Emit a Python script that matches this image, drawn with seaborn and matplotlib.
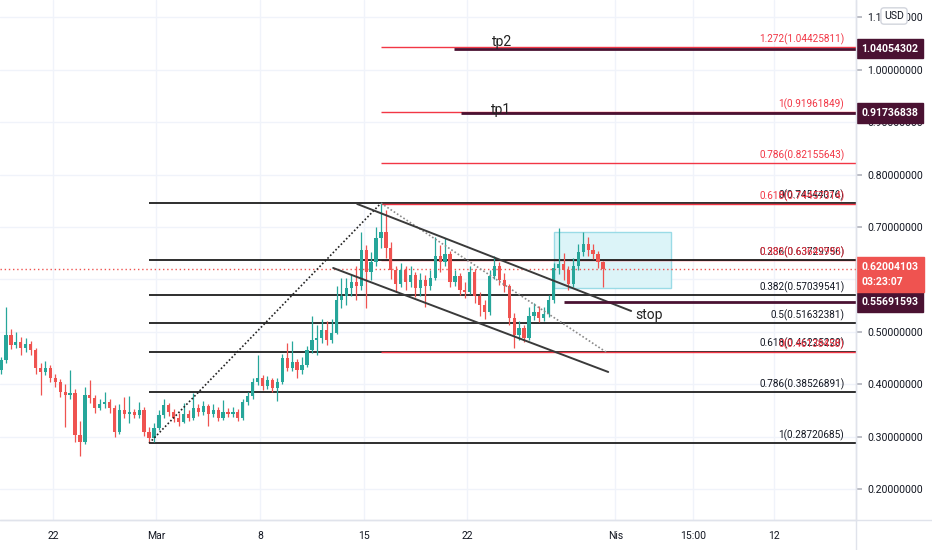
import matplotlib
matplotlib.use("Agg")
import matplotlib.pyplot as plt
import numpy as np
import pandas as pd
import seaborn as sns

# 8-hour candles, starting Feb 18 12:00
first_open = 0.427
closes = [
    0.446, 0.494, 0.475, 0.481, 0.469, 0.477, 0.465, 0.431, 0.423, 0.431,
    0.412, 0.404, 0.385, 0.379, 0.383, 0.303, 0.290, 0.379, 0.374, 0.355,
    0.362, 0.366, 0.355, 0.309, 0.351, 0.343, 0.347, 0.341, 0.351, 0.309,
    0.297, 0.316, 0.341, 0.360, 0.347, 0.336, 0.328, 0.343, 0.336, 0.355,
    0.347, 0.358, 0.343, 0.351, 0.336, 0.347, 0.343, 0.347, 0.336, 0.366,
    0.378, 0.404, 0.412, 0.397, 0.408, 0.393, 0.404, 0.450, 0.431, 0.442,
    0.427, 0.437, 0.465, 0.484, 0.488, 0.503, 0.484, 0.498, 0.561, 0.568,
    0.584, 0.595, 0.587, 0.656, 0.614, 0.633, 0.679, 0.690, 0.660, 0.618,
    0.591, 0.618, 0.595, 0.608, 0.584, 0.599, 0.587, 0.603, 0.645, 0.633,
    0.648, 0.595, 0.606, 0.580, 0.576, 0.614, 0.568, 0.551, 0.538, 0.606,
    0.626, 0.599, 0.587, 0.526, 0.494, 0.507, 0.488, 0.530, 0.538, 0.526,
    0.534, 0.561, 0.622, 0.629, 0.618, 0.591, 0.626, 0.652, 0.668, 0.656,
    0.648, 0.633, 0.620,
]
highs = [
    0.452, 0.547, 0.505, 0.500, 0.490, 0.488, 0.482, 0.470, 0.440, 0.445,
    0.436, 0.420, 0.410, 0.400, 0.427, 0.390, 0.330, 0.395, 0.408, 0.380,
    0.372, 0.385, 0.372, 0.360, 0.362, 0.376, 0.378, 0.352, 0.366, 0.356,
    0.318, 0.325, 0.350, 0.372, 0.365, 0.352, 0.345, 0.365, 0.350, 0.383,
    0.362, 0.368, 0.362, 0.362, 0.356, 0.370, 0.355, 0.356, 0.352, 0.372,
    0.385, 0.412, 0.455, 0.418, 0.415, 0.412, 0.412, 0.458, 0.478, 0.482,
    0.448, 0.452, 0.472, 0.530, 0.512, 0.525, 0.520, 0.525, 0.588, 0.602,
    0.603, 0.610, 0.625, 0.690, 0.665, 0.652, 0.700, 0.7454, 0.733, 0.672,
    0.625, 0.632, 0.625, 0.625, 0.615, 0.612, 0.608, 0.618, 0.680, 0.665,
    0.679, 0.655, 0.618, 0.612, 0.595, 0.625, 0.620, 0.575, 0.560, 0.618,
    0.645, 0.633, 0.612, 0.592, 0.535, 0.520, 0.512, 0.548, 0.555, 0.550,
    0.548, 0.570, 0.632, 0.698, 0.650, 0.625, 0.640, 0.668, 0.690, 0.680,
    0.668, 0.655, 0.636,
]
lows = [
    0.420, 0.440, 0.468, 0.470, 0.455, 0.462, 0.455, 0.420, 0.380, 0.418,
    0.405, 0.395, 0.375, 0.318, 0.372, 0.290, 0.262, 0.285, 0.365, 0.345,
    0.350, 0.355, 0.345, 0.300, 0.305, 0.335, 0.325, 0.335, 0.336, 0.302,
    0.2872, 0.290, 0.312, 0.336, 0.340, 0.328, 0.320, 0.325, 0.330, 0.332,
    0.340, 0.342, 0.320, 0.338, 0.330, 0.332, 0.337, 0.338, 0.330, 0.332,
    0.360, 0.372, 0.398, 0.388, 0.390, 0.385, 0.368, 0.400, 0.425, 0.426,
    0.412, 0.420, 0.432, 0.460, 0.455, 0.478, 0.475, 0.478, 0.495, 0.545,
    0.552, 0.568, 0.560, 0.580, 0.545, 0.598, 0.625, 0.660, 0.640, 0.600,
    0.575, 0.585, 0.580, 0.585, 0.566, 0.568, 0.548, 0.580, 0.598, 0.615,
    0.625, 0.585, 0.588, 0.570, 0.565, 0.572, 0.555, 0.530, 0.525, 0.532,
    0.600, 0.590, 0.575, 0.512, 0.470, 0.485, 0.480, 0.485, 0.522, 0.518,
    0.520, 0.528, 0.555, 0.610, 0.598, 0.580, 0.585, 0.618, 0.645, 0.645,
    0.638, 0.622, 0.585,
]

# fibonacci retracement (black) and extension (red)
fib_ratios = ["0", "0.236", "0.382", "0.5", "0.618", "0.786", "1"]
fib_values = [0.74544076, 0.63729756, 0.57039541, 0.51632381, 0.46225220, 0.38526891, 0.28720685]
ext_ratios = ["0", "0.382", "0.618", "0.786", "1", "1.272"]
ext_values = [0.46138458, 0.63642993, 0.74457314, 0.82155643, 0.91961849, 1.04425811]

# horizontal rays with axis tags
rays = [("tp2", 1.04054302, "2021-03-21 02:00", "2021-03-24 09:00", 1.053),
        ("tp1", 0.91736838, "2021-03-21 13:30", "2021-03-24 06:00", 0.923),
        ("stop", 0.55691593, "2021-03-28 12:00", "2021-04-03 06:30", 0.532)]
last_price = 0.62004103
countdown = "03:23:07"

tick_dates = ["2021-02-22", "2021-03-01", "2021-03-08", "2021-03-15", "2021-03-22",
              "2021-04-01", "2021-04-06 06:00", "2021-04-11 18:00"]
tick_labels = ["22", "Mar", "8", "15", "22", "Nis", "15:00", "12"]
price_ticks = [0.2, 0.3, 0.4, 0.5, 0.6, 0.7, 0.8, 0.9, 1.0, 1.1]
hidden_tick = 0.6  # covered by the last-price tag

MAR1 = pd.Timestamp("2021-03-01")


def day(ts):
    return (pd.Timestamp(ts) - MAR1) / pd.Timedelta(days=1)


UP, DOWN = "#26a69a", "#ef5350"
RED = "#f23645"
MAROON = "#4a1232"
TXT = "#131722"

sns.set_theme(style="white")
plt.rcParams["font.family"] = ["Roboto", "DejaVu Sans"]

fig = plt.figure(figsize=(9.32, 5.5), dpi=100)
ax = fig.add_axes([0, 30 / 550, 856 / 932, 520 / 550])
xmin, xmax = -10.57, 47.26
ax.set_xlim(xmin, xmax)
ax.set_ylim(0.1408, 1.1332)

ax.grid(True, color="#f0f3fa", lw=1, zorder=0)
ax.set_axisbelow(True)

# candles
times = pd.date_range("2021-02-18 12:00", periods=len(closes), freq="8h")
x = ((times - MAR1) / pd.Timedelta(days=1)).to_numpy()
c = np.array(closes)
o = np.r_[first_open, c[:-1]]
cols = np.where(c >= o, UP, DOWN)
ax.vlines(x, lows, highs, colors=cols, lw=0.9, zorder=4)
ax.bar(x, np.maximum(np.abs(c - o), 0.002), bottom=np.minimum(o, c), width=0.22,
       color=cols, linewidth=0, zorder=5)

# target box
r0, r1 = day("2021-03-27 21:00"), day("2021-04-04 18:15")
ax.add_patch(plt.Rectangle((r0, 0.5836), r1 - r0, 0.6905 - 0.5836,
                           facecolor="#dcf4f8", edgecolor="#9adbe6", lw=1, zorder=2))

# fib lines
fx0 = day("2021-02-28 12:00")
fx1 = day("2021-03-16 04:00")
lab_x = 46.47
for ratio, val in zip(fib_ratios, fib_values):
    ax.hlines(val, fx0, xmax, color="#1e1e1e", lw=1.3, zorder=3.1)
    ax.annotate(f"{ratio}({val:.8f})", (lab_x, val), xytext=(0, 1.5), textcoords="offset points",
                ha="right", va="bottom", fontsize=7.2, color=TXT, zorder=8)
for ratio, val in zip(ext_ratios, ext_values):
    ax.hlines(val, fx1, xmax, color=RED, lw=1.0, zorder=3.0 if ratio == "0.382" else 3.2)
    ax.annotate(f"{ratio}({val:.8f})", (lab_x, val), xytext=(0, 1.5), textcoords="offset points",
                ha="right", va="bottom", fontsize=7.2, color=RED, zorder=8)

# trend lines
sns.lineplot(x=[fx0, fx1], y=[fib_values[-1], fib_values[0]], ax=ax, color="#222222",
             lw=1.2, linestyle=(0, (1, 1.3)), zorder=6)
sns.lineplot(x=[fx1, day("2021-03-31 09:00")], y=[fib_values[0], ext_values[0]], ax=ax,
             color="#8a8a8a", lw=1.2, linestyle=(0, (1, 1.3)), zorder=6)
sns.lineplot(x=[day("2021-03-14 13:30"), day("2021-04-02 01:40")], y=[0.7439, 0.5397], ax=ax,
             color="#3a3a3a", lw=1.4, zorder=6)
sns.lineplot(x=[day("2021-03-12 22:30"), day("2021-03-31 12:30")], y=[0.6218, 0.4233], ax=ax,
             color="#3a3a3a", lw=1.4, zorder=6)

# last price line
ax.axhline(last_price, color=DOWN, lw=1, linestyle=(0, (1, 2)), zorder=3)

# rays, notes, axis tags
for name, val, start, tpos, ty in rays:
    ax.hlines(val, day(start), xmax, color=MAROON, lw=2, zorder=6)
    ax.text(day(tpos), ty, name, ha="center", va="center", fontsize=10, color="#222222", zorder=9)
    ax.annotate(f"{val:.8f}", (1, val), xycoords=("axes fraction", "data"), xytext=(4, 0),
                textcoords="offset points", ha="left", va="center", fontsize=7.6, color="white",
                fontweight="bold", annotation_clip=False, zorder=10,
                bbox=dict(boxstyle="square,pad=0.45", fc=MAROON, ec=MAROON))
ax.annotate(f"{last_price:.8f}\n{countdown}", (1, last_price), xycoords=("axes fraction", "data"),
            xytext=(4, 4.8), textcoords="offset points", ha="left", va="top", fontsize=7.6,
            color="white", fontweight="bold", linespacing=1.55, annotation_clip=False, zorder=10,
            bbox=dict(boxstyle="square,pad=0.5", fc=DOWN, ec=DOWN))

# axes styling
ax.set_xticks([day(t) for t in tick_dates])
ax.set_xticklabels(tick_labels, fontsize=7.5, color=TXT)
ax.yaxis.tick_right()
ax.set_yticks(price_ticks)
ax.set_yticklabels(["" if v == hidden_tick else f"{v:.8f}" for v in price_ticks],
                   fontsize=7.6, color=TXT)
ax.tick_params(axis="y", length=4, color="#b2b5be", pad=4)
ax.tick_params(axis="x", length=0, pad=8)
for s in ["left", "top"]:
    ax.spines[s].set_visible(False)
for s in ["right", "bottom"]:
    ax.spines[s].set_color("#e0e3eb")
    ax.spines[s].set_linewidth(1)

fig.add_artist(plt.Line2D([0, 1], [30 / 550, 30 / 550], color="#e0e3eb", lw=1))
fig.add_artist(plt.Line2D([856 / 932, 856 / 932], [0, 1], color="#e0e3eb", lw=1))
fig.text(894 / 932, 1 - 16 / 550, "USD", ha="center", va="center", fontsize=7.6, color=TXT,
         bbox=dict(boxstyle="round,pad=0.3", fc="white", ec="#d1d4dc"), zorder=20)

fig.savefig("out.png", dpi=100, facecolor="white")
